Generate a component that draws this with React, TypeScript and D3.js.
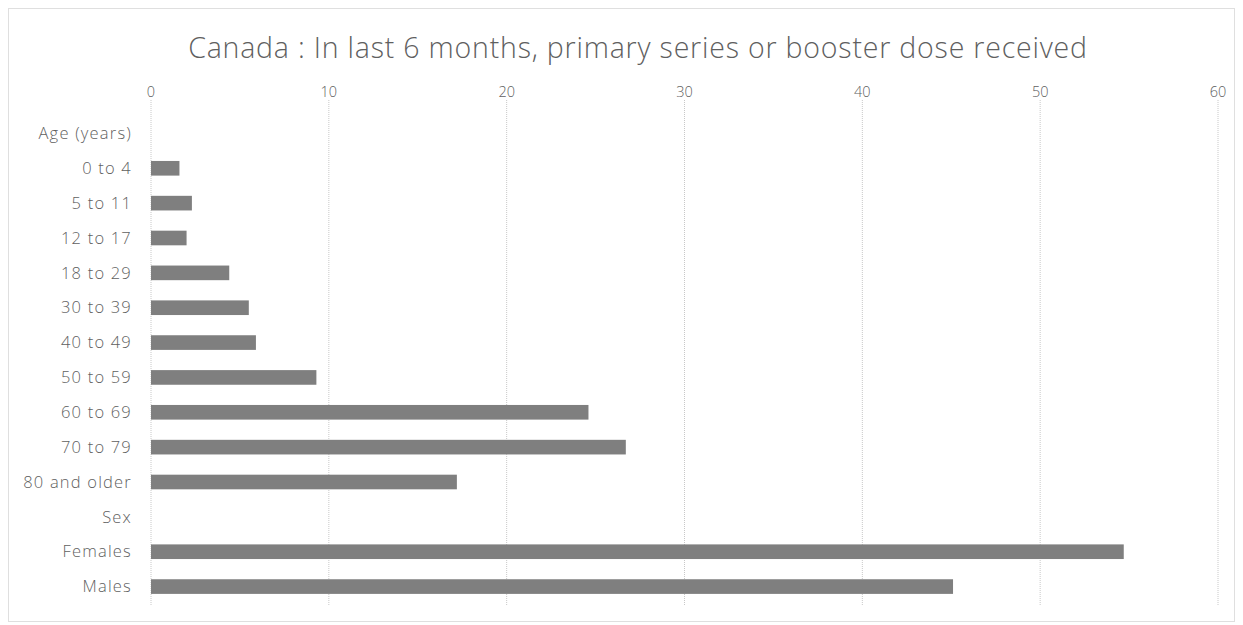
import React from "react";
import * as d3 from "d3";

const categories = [
  "Age (years)",
  "0 to 4",
  "5 to 11",
  "12 to 17",
  "18 to 29",
  "30 to 39",
  "40 to 49",
  "50 to 59",
  "60 to 69",
  "70 to 79",
  "80 and older",
  "Sex",
  "Females",
  "Males",
];
const values: (number | null)[] = [null, 1.6, 2.3, 2.0, 4.4, 5.5, 5.9, 9.3, 24.6, 26.7, 17.2, null, 54.7, 45.1];
const ticks = [0, 10, 20, 30, 40, 50, 60];
const title = "Canada : In last 6 months, primary series or booster dose received";

const W = 1243;
const H = 625;
const margin = { left: 151, right: 25, top: 116, bottom: 21 };

export default function App() {
  const x = d3.scaleLinear().domain([0, 60]).range([margin.left, 1218]);
  const y = d3
    .scaleBand<string>()
    .domain(categories)
    .range([margin.top, H - margin.bottom])
    .paddingInner(0.58)
    .paddingOuter(0.29);
  const font = "'Open Sans', 'Liberation Sans', sans-serif";
  return (
    <svg width={W} height={H} style={{ position: "absolute", left: 0, top: 0, background: "#fff" }}>
      <rect x={8.5} y={8.5} width={W - 17} height={H - 12} fill="none" stroke="#bfbfbf" strokeDasharray="1,1" />
      <text x={638} y={58} textAnchor="middle" fontFamily={font} fontSize={28.5} fontWeight={300} fill="#5f5f5f" letterSpacing={0.8}>
        {title}
      </text>
      {ticks.map((t) => (
        <g key={t}>
          <line x1={x(t)} x2={x(t)} y1={margin.top - 16} y2={H - margin.bottom + 2} stroke="#c8c8c8" strokeDasharray="1,1" />
          <text x={x(t)} y={97} textAnchor="middle" fontFamily={font} fontSize={14.5} fontWeight={300} fill="#5f5f5f">
            {t}
          </text>
        </g>
      ))}
      {categories.map((c, i) => {
        const yy = y(c)! + y.bandwidth() / 2;
        const v = values[i];
        return (
          <g key={c}>
            <text x={132} y={yy} dy="0.35em" textAnchor="end" fontFamily={font} fontSize={16.5} fontWeight={300} fill="#5f5f5f" letterSpacing={1.2}>
              {c}
            </text>
            {v != null && (
              <rect x={x(0)} y={y(c)!} width={x(v) - x(0)} height={y.bandwidth()} fill="#7f7f7f" />
            )}
          </g>
        );
      })}
    </svg>
  );
}
